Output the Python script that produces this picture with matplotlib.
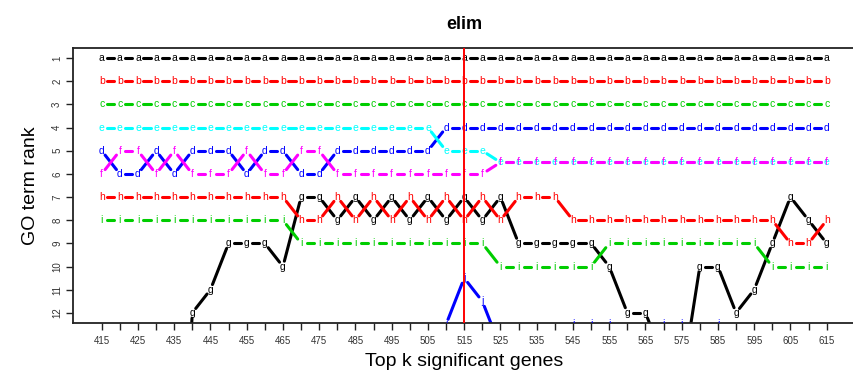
#!/usr/bin/env python3
# === GO term rank plot (elim) across top k significant genes ===
import numpy as np
import matplotlib
matplotlib.use('Agg')
import matplotlib.pyplot as plt

plt.rcParams['font.family'] = ['Liberation Sans', 'DejaVu Sans']

# === Data ===
top_k = [415, 420, 425, 430, 435, 440, 445, 450, 455, 460,
         465, 470, 475, 480, 485, 490, 495, 500, 505, 510,
         515, 520, 525, 530, 535, 540, 545, 550, 555, 560,
         565, 570, 575, 580, 585, 590, 595, 600, 605, 610, 615]
rank_ticks = [1, 2, 3, 4, 5, 6, 7, 8, 9, 10, 11, 12]
cutoff_k = 515

rank_a = [1, 1, 1, 1, 1, 1, 1, 1, 1, 1, 1, 1, 1, 1, 1, 1, 1, 1, 1, 1, 1,
          1, 1, 1, 1, 1, 1, 1, 1, 1, 1, 1, 1, 1, 1, 1, 1, 1, 1, 1, 1]
rank_b = [2, 2, 2, 2, 2, 2, 2, 2, 2, 2, 2, 2, 2, 2, 2, 2, 2, 2, 2, 2, 2,
          2, 2, 2, 2, 2, 2, 2, 2, 2, 2, 2, 2, 2, 2, 2, 2, 2, 2, 2, 2]
rank_c = [3, 3, 3, 3, 3, 3, 3, 3, 3, 3, 3, 3, 3, 3, 3, 3, 3, 3, 3, 3, 3,
          3, 3, 3, 3, 3, 3, 3, 3, 3, 3, 3, 3, 3, 3, 3, 3, 3, 3, 3, 3]
rank_d = [5, 6, 6, 5, 6, 5, 5, 5, 6, 5, 5, 6, 6, 5, 5, 5, 5, 5, 5, 4, 4,
          4, 4, 4, 4, 4, 4, 4, 4, 4, 4, 4, 4, 4, 4, 4, 4, 4, 4, 4, 4]
rank_e = [4, 4, 4, 4, 4, 4, 4, 4, 4, 4, 4, 4, 4, 4, 4, 4, 4, 4, 4, 5, 5,
          5, 5.5, 5.5, 5.5, 5.5, 5.5, 5.5, 5.5, 5.5, 5.5, 5.5, 5.5, 5.5,
          5.5, 5.5, 5.5, 5.5, 5.5, 5.5, 5.5]
rank_f = [6, 5, 5, 6, 5, 6, 6, 6, 5, 6, 6, 5, 5, 6, 6, 6, 6, 6, 6, 6, 6,
          6, 5.5, 5.5, 5.5, 5.5, 5.5, 5.5, 5.5, 5.5, 5.5, 5.5, 5.5, 5.5,
          5.5, 5.5, 5.5, 5.5, 5.5, 5.5, 5.5]
rank_g = [25, 25, 25, 25, 25, 12, 11, 9, 9, 9, 10, 7, 7, 8, 7, 8, 7, 8, 7, 8, 7,
          8, 7, 9, 9, 9, 9, 9, 10, 12, 12, 14, 15, 10, 10, 12, 11, 9, 7, 8, 9]
rank_h = [7, 7, 7, 7, 7, 7, 7, 7, 7, 7, 7, 8, 8, 7, 8, 7, 8, 7, 8, 7, 8,
          7, 8, 7, 7, 7, 8, 8, 8, 8, 8, 8, 8, 8, 8, 8, 8, 8, 9, 9, 8]
rank_i = [8, 8, 8, 8, 8, 8, 8, 8, 8, 8, 8, 9, 9, 9, 9, 9, 9, 9, 9, 9, 9,
          9, 10, 10, 10, 10, 10, 10, 9, 9, 9, 9, 9, 9, 9, 9, 9, 10, 10, 10, 10]
rank_j = [14, 14, 14, 14, 14, 14, 14, 14, 14, 14, 14, 14, 14, 14, 14, 14, 14,
          14, 14, 12.5, 10.5, 11.5, 13.5, 14, 14, 14, 12.5, 12.5, 12.5, 14,
          14, 12.5, 12.5, 14, 12.5, 14, 14, 14, 14, 14, 14]

term_letters = ['a', 'b', 'c', 'd', 'e', 'f', 'g', 'h', 'i', 'j']
term_ranks = [rank_a, rank_b, rank_c, rank_d, rank_e,
              rank_f, rank_g, rank_h, rank_i, rank_j]
term_colors = ['#000000', '#FF0000', '#00CD00', '#0000FF', '#00FFFF',
               '#FF00FF', '#000000', '#FF0000', '#00CD00', '#0000FF']


# === Draw one series like R's type="b" (gaps round each letter) ===
def draw_series(ax, xs, ys, color, letter, gap_px=5.5):
    pts = ax.transData.transform(np.column_stack([xs, ys]))
    inv = ax.transData.inverted()
    for p0, p1 in zip(pts[:-1], pts[1:]):
        dist = np.hypot(*(p1 - p0))
        f = gap_px / dist
        if f < 0.5:
            seg = inv.transform([p0 + f * (p1 - p0), p1 + f * (p0 - p1)])
            ax.plot(seg[:, 0], seg[:, 1], color=color, lw=2.2,
                    solid_capstyle='round', zorder=2)
    # letters far below the bottom axis would be clipped away entirely
    y_bottom = ax.get_ylim()[0]
    for x, y in zip(xs, ys):
        if y > y_bottom + 0.3:
            continue
        ax.text(x, y, letter, color=color, fontsize=7.5, ha='center',
                va='center', clip_on=True, zorder=3)


fig = plt.figure(figsize=(8.54, 3.71), dpi=100)
ax = fig.add_axes([73 / 854, 48 / 371, 782.7 / 854, 275 / 371])
ax.set_xlim(407.08, 623.0)
ax.set_ylim(12.44, 0.56)

for ranks, color, letter in zip(term_ranks, term_colors, term_letters):
    draw_series(ax, top_k, ranks, color, letter)

ax.axvline(cutoff_k, color='#FF0000', lw=1.4, zorder=5)

# === Axes styling ===
for side in ['left', 'bottom', 'top']:
    ax.spines[side].set_linewidth(1.3)
    ax.spines[side].set_color('#222222')
ax.spines['right'].set_visible(False)

# labelled ticks every 10, bare ticks in between
ax.set_xticks(top_k[::2])
ax.set_xticklabels([str(k) for k in top_k[::2]])
ax.set_xticks(top_k[1::2], minor=True)
ax.set_yticks(rank_ticks)
ax.set_yticklabels([str(r) for r in rank_ticks], rotation=90, va='center')
ax.tick_params(axis='both', which='both', direction='out', length=4.8,
               width=1.0, labelsize=7, colors='#222222', labelcolor='#333333')
ax.tick_params(axis='x', which='minor', labelbottom=False)
ax.tick_params(axis='x', pad=4.5)
ax.tick_params(axis='y', pad=3)

fig.text(464 / 854, (371 - 29) / 371, 'elim', ha='center', va='baseline',
         fontsize=13, fontweight='bold')
fig.text(464 / 854, (371 - 366.5) / 371, 'Top k significant genes',
         ha='center', va='baseline', fontsize=14)
fig.text(31 / 854, 185.5 / 371, 'GO term rank', rotation=90,
         ha='center', va='center', fontsize=14)

fig.savefig('out.png', dpi=100)
